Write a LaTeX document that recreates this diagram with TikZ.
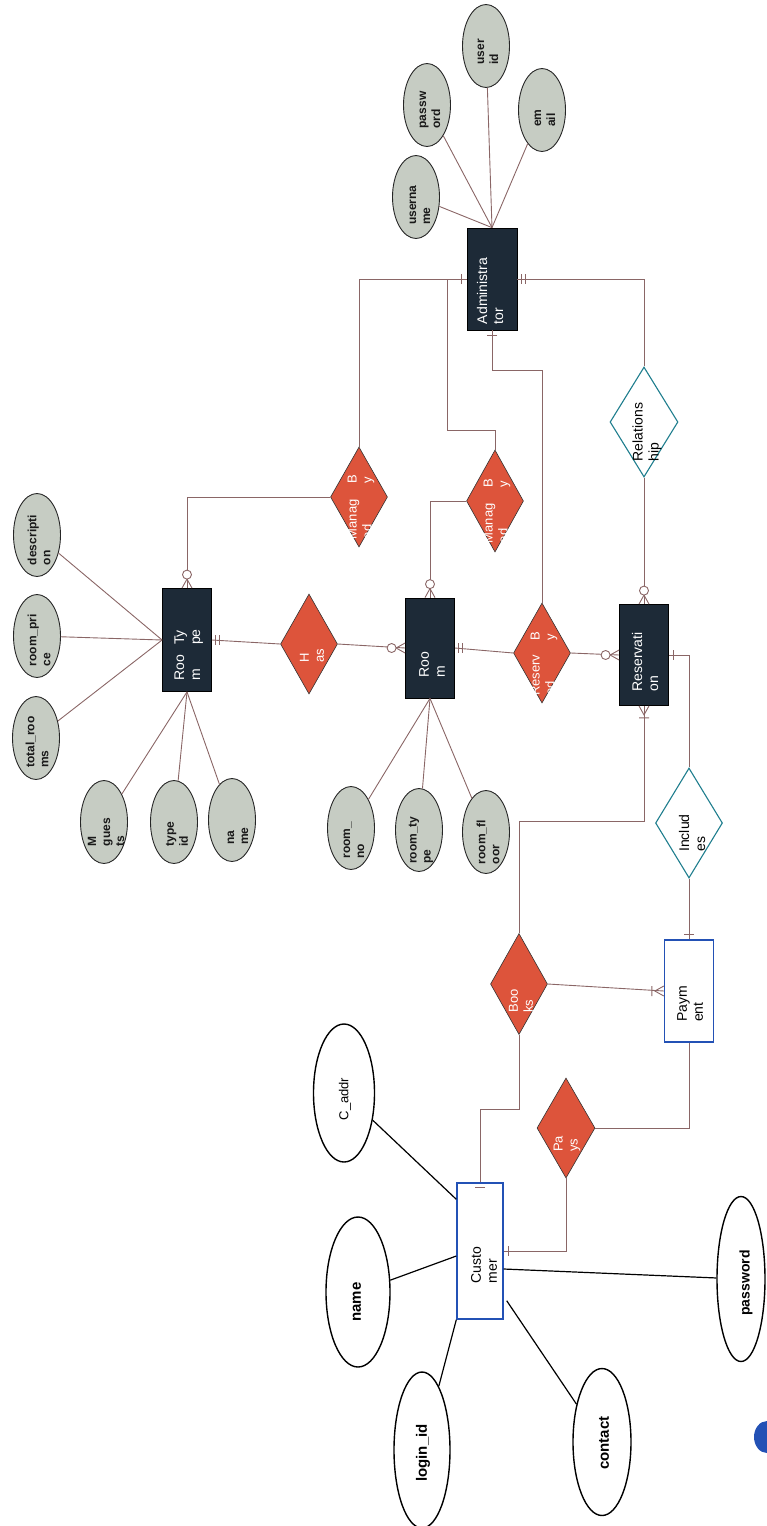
\documentclass[tikz,border=0pt]{standalone}
\usepackage{fontspec}
\setmainfont{Liberation Sans}
\usetikzlibrary{shapes.geometric,calc}
\definecolor{navyc}{HTML}{1D2A37}
\definecolor{redc}{HTML}{DD543B}
\definecolor{graye}{HTML}{C6CCC3}
\definecolor{connc}{HTML}{8A6666}
\definecolor{tealc}{HTML}{1F7E8E}
\definecolor{bluec}{HTML}{2351B5}
\tikzset{
  entbox/.style={draw=black, line width=0.8pt, fill=navyc, inner sep=0, minimum width=49pt, minimum height=101pt},
  wbox/.style={draw=bluec, line width=1.4pt, fill=white, inner sep=0, minimum width=49pt, minimum height=102pt},
  redd/.style={diamond, draw=black!80, line width=0.6pt, fill=redc, inner sep=0, minimum width=57pt, minimum height=100pt},
  teald/.style={diamond, draw=tealc, line width=1.1pt, fill=white, inner sep=0, minimum width=68pt, minimum height=110pt},
  gattr/.style={ellipse, draw=black!85, line width=0.9pt, fill=graye, inner sep=0, minimum width=47pt, minimum height=83pt},
  wattr/.style={ellipse, draw=black, line width=1.4pt, fill=white, inner sep=0},
  cline/.style={draw=connc, line width=0.9pt},
  bline/.style={draw=black, line width=1.2pt},
  etxt/.style={rotate=90, text=white, align=left, inner sep=0, font=\fontsize{14}{16}\selectfont},
  dtxt/.style={rotate=90, text=white, align=left, inner sep=0, font=\fontsize{13}{15}\selectfont},
  ktxt/.style={rotate=90, text=black, align=left, inner sep=0, font=\fontsize{14}{16}\selectfont},
  gtxt/.style={rotate=90, text=black!90, align=left, inner sep=0, font=\bfseries\fontsize{12}{14}\selectfont},
  ctxt/.style={rotate=90, text=black, inner sep=0, font=\bfseries\fontsize{15}{18}\selectfont},
  pics/tone/.style={code={\draw[cline] (5,-5)--(5,5);}},
  pics/ttwo/.style={code={\draw[cline] (4,-5)--(4,5) (8,-5)--(8,5);}},
  pics/zmany/.style={code={\draw[cline] (0,-5)--(9,0)--(0,5); \draw[cline,fill=white] (13.5,0) circle[radius=4.5];}},
  pics/omany/.style={code={\draw[cline] (0,-5)--(9,0)--(0,5) (12,-5)--(12,5);}},
}
\begin{document}
\begin{tikzpicture}[x=1pt,y=-1pt]
\path[use as bounding box] (0,0) rectangle (767,1526);

% entities
\node[entbox, minimum width=50pt, minimum height=102pt] (adm) at (492,279) {};
\node[entbox, minimum height=103pt] (rt) at (187,640) {};
\node[entbox, minimum height=100pt] (room) at (430,648) {};
\node[entbox] (res) at (644,655) {};
\node[wbox] (pay) at (689,991) {};
\node[wbox, minimum width=46pt, minimum height=136pt] (cust) at (480,1251) {};

% relationships
\node[redd] (m1) at (359,497) {};
\node[redd, minimum height=102pt] (m2) at (495,501) {};
\node[redd] (has) at (309,644) {};
\node[redd] (rb) at (542,653) {};
\node[redd, minimum height=101pt] (books) at (519,984) {};
\node[redd, minimum width=58pt] (pays) at (566,1128) {};
\node[teald] (rel) at (644,422) {};
\node[teald, minimum width=67pt] (inc) at (689,823) {};

% gray attributes
\node[gattr] (uname) at (416,197) {};
\node[gattr] (upass) at (427,105) {};
\node[gattr] (uid) at (486,46) {};
\node[gattr] (email) at (542,110) {};
\node[gattr] (desc) at (37,535) {};
\node[gattr] (price) at (37,636) {};
\node[gattr] (total) at (36,738) {};
\node[gattr] (mg) at (104,822) {};
\node[gattr] (tid) at (174,822) {};
\node[gattr] (tname) at (232,820) {};
\node[gattr] (rno) at (351,828) {};
\node[gattr] (rtype) at (419,830) {};
\node[gattr] (rfloor) at (486,832) {};

% white attributes
\node[wattr, minimum width=61pt, minimum height=138pt] (caddr) at (344,1093) {};
\node[wattr, minimum width=64pt, minimum height=150pt] (cname) at (358,1292) {};
\node[wattr, minimum width=56pt, minimum height=156pt] (login) at (422,1450) {};
\node[wattr, minimum width=58pt, minimum height=147pt] (contact) at (602,1442) {};
\node[wattr, minimum width=48pt, minimum height=165pt] (cpass) at (741,1279) {};
\fill[bluec] (767,1437) ellipse [x radius=13, y radius=16];

% attribute lines
\foreach \a in {uname,upass,uid,email} \draw[cline] (\a) -- (adm.north);
\foreach \a in {desc,price,total} \draw[cline] (\a) -- (rt.west);
\foreach \a in {mg,tid,tname} \draw[cline] (\a) -- (rt.south);
\foreach \a in {rno,rtype,rfloor} \draw[cline] (\a) -- (room.south);
\draw[bline] (caddr) -- ($(cust.north west)+(0,17)$);
\draw[bline] (cname) -- ($(cust.west)+(0,5)$);
\draw[bline] (login) -- (cust.south west);
\draw[bline] (contact) -- ($(cust.south east)+(3,-19)$);
\draw[bline] ($(cust.east)+(0,18)$) -- (cpass);

% connectors
\draw[cline] (adm.west) -| (m1.north);
\draw[cline] (adm.west) -- ++(-19,0) -- ++(0,151) -| (m2.north);
\draw[cline] (adm.south) -- ++(0,40) -| (rb.north);
\draw[cline] (adm.east) -| (rel.north);
\draw[cline] (m1.west) -| (rt.north);
\draw[cline] (m2.west) -| (room.north);
\draw[cline] (rt.east) -- (has.west);
\draw[cline] (has.east) -- (room.west);
\draw[cline] (room.east) -- (rb.west);
\draw[cline] (rb.east) -- (res.west);
\draw[cline] (rel.south) -- (res.north);
\draw[cline] (res.east) -| (inc.north);
\draw[cline] (res.south) -- ++(0,116) -| (books.north);
\draw[cline] (inc.south) -- (pay.north);
\draw[cline] (books.east) -- (pay.west);
\draw[cline] (books.south) -- ++(0,75) -| (cust.north);
\draw[cline] (pays.east) -| (pay.south);
\draw[cline] (pays.south) |- (cust.east);

% cardinality marks
\pic[rotate=180] at (adm.west) {tone};
\pic at (adm.east) {ttwo};
\pic[rotate=-90] at (adm.south) {tone};
\pic[rotate=90] at (rt.north) {zmany};
\pic[rotate=90] at (room.north) {zmany};
\pic at (rt.east) {ttwo};
\pic[rotate=180] at (room.west) {zmany};
\pic at (room.east) {ttwo};
\pic[rotate=180] at (res.west) {zmany};
\pic[rotate=90] at (res.north) {zmany};
\pic at (res.east) {tone};
\pic[rotate=-90] at (res.south) {omany};
\pic[rotate=90] at (pay.north) {tone};
\pic[rotate=180] at (pay.west) {omany};
\pic at (cust.east) {tone};
\pic[rotate=-90] at (cust.north) {tone};

% texts
\node[etxt] (adm-t) at (490,291) {Administra\\tor};
\node[etxt] (rt-t) at (189,655) {\begin{tabular}{@{}l@{\hspace{10pt}}l@{}}Roo&Ty\\m&pe\end{tabular}};
\node[etxt] (room-t) at (432,665) {Roo\\m};
\node[etxt] (res-t) at (645,662) {Reservati\\on};
\node[ktxt] (pay-t) at (690,1004) {Paym\\ent};
\node[ktxt] (cust-t) at (484,1265) {Custo\\mer};
\node[ktxt] (rel-t) at (647,432) {Relations\\hip};
\node[ktxt] (inc-t) at (692,833) {Includ\\es};
\node[dtxt] (has-t) at (312,656) {H\\as};
\node[dtxt] (m1-t) at (361,507) {\begin{tabular}{@{}l@{\hspace{16pt}}l@{}}Manag&B\\ed&y\end{tabular}};
\node[dtxt] (m2-t) at (497,511) {\begin{tabular}{@{}l@{\hspace{16pt}}l@{}}Manag&B\\ed&y\end{tabular}};
\node[dtxt] (rb-t) at (544,664) {\begin{tabular}{@{}l@{\hspace{14pt}}l@{}}Reserv&B\\ed&y\end{tabular}};
\node[dtxt] (books-t) at (521,1001) {Boo\\ks};
\node[dtxt] (pays-t) at (567,1144) {Pa\\ys};

\node[gtxt] (uname-t) at (420,205) {userna\\me};
\node[gtxt] (upass-t) at (430,110) {passw\\ord};
\node[gtxt] (uid-t) at (488,52) {user\\id};
\node[gtxt] (email-t) at (545,118) {em\\ail};
\node[gtxt] (desc-t) at (39,540) {descripti\\on};
\node[gtxt] (price-t) at (39,640) {room\_pri\\ce};
\node[gtxt] (total-t) at (37,742) {total\_roo\\ms};
\node[gtxt] (mg-t) at (106,832) {M\\gues\\ts};
\node[gtxt] (tid-t) at (177,834) {type\\id};
\node[gtxt] (tname-t) at (238,836) {na\\me};
\node[gtxt] (rno-t) at (354,840) {room\_\\no};
\node[gtxt] (rtype-t) at (421,840) {room\_ty\\pe};
\node[gtxt] (rfloor-t) at (488,842) {room\_fl\\oor};

\node[ctxt, font=\fontsize{13}{15}\selectfont] (caddr-t) at (345,1099) {C\_addr};
\node[ctxt] (cname-t) at (357,1302) {name};
\node[ctxt] (login-t) at (423,1453) {login\_id};
\node[ctxt] (contact-t) at (604,1443) {contact};
\node[ctxt, font=\bfseries\fontsize{14}{16}\selectfont] (cpass-t) at (746,1283) {password};
\end{tikzpicture}
\end{document}
